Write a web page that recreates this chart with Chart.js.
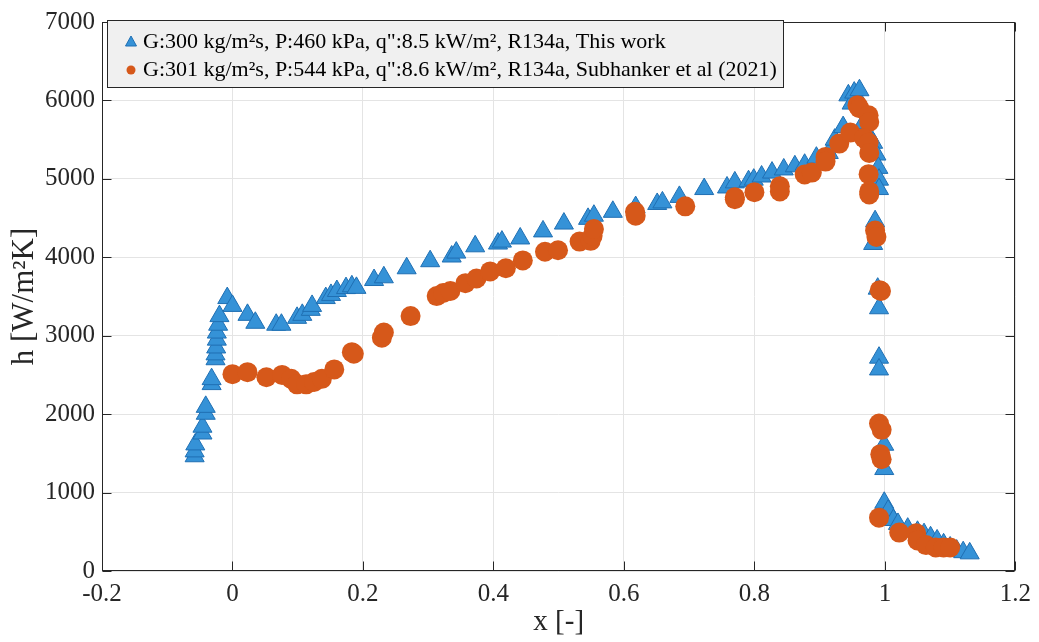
<!DOCTYPE html>
<html>
<head>
<meta charset="utf-8">
<script src="https://cdn.jsdelivr.net/npm/chart.js@4.4.1/dist/chart.umd.min.js"></script>
<style>
  html, body { margin: 0; padding: 0; background: #fff; }
  #wrap { width: 1039px; height: 642px; }
</style>
</head>
<body>
<div id="wrap"><canvas id="hChart"></canvas></div>
<script>
// valeurs
const xThisWork = [-0.058, -0.058, -0.057, -0.046, -0.046, -0.041, -0.041, -0.032, -0.032, -0.026,
  -0.026, -0.025, -0.024, -0.024, -0.022, -0.02, -0.008, 0.0, 0.023, 0.035,
  0.067, 0.075, 0.099, 0.107, 0.12, 0.122, 0.143, 0.151, 0.16, 0.174,
  0.183, 0.19, 0.217, 0.232, 0.267, 0.303, 0.336, 0.343, 0.372, 0.407,
  0.413, 0.441, 0.476, 0.508, 0.545, 0.554, 0.583, 0.618, 0.651, 0.659,
  0.685, 0.723, 0.758, 0.77, 0.791, 0.799, 0.811, 0.827, 0.845, 0.862,
  0.877, 0.895, 0.914, 0.923, 0.936, 0.944, 0.949, 0.953, 0.961, 0.967,
  0.975, 0.982, 0.987, 0.99, 0.991, 0.991, 0.985, 0.982, 0.989, 0.991,
  0.991, 0.991, 0.999, 0.999, 0.999, 1.005, 1.013, 1.02, 1.035, 1.05,
  1.06, 1.07, 1.08, 1.09, 1.1, 1.11, 1.12, 1.13];
const hThisWork = [1463, 1525, 1614, 1753, 1840, 2005, 2093, 2383, 2446, 2700,
  2762, 2850, 2950, 3040, 3140, 3250, 3480, 3380, 3266, 3165,
  3140, 3140, 3228, 3266, 3330, 3380, 3480, 3520, 3570, 3607,
  3630, 3610, 3710, 3745, 3860, 3950, 4010, 4060, 4140, 4175,
  4200, 4240, 4330, 4430, 4490, 4530, 4580, 4640, 4680, 4700,
  4770, 4870, 4890, 4955, 4970, 4990, 5030, 5080, 5120, 5160,
  5180, 5270, 5330, 5500, 5660, 6065, 5960, 6100, 6130, 5710,
  5560, 5460, 5310, 5140, 4990, 4870, 4460, 4170, 3600, 3350,
  2720, 2570, 1610, 1300, 870, 770, 650, 600, 540, 500,
  470, 430, 390, 340, 300, 260, 240, 225];

const xSubhanker = [0.0, 0.023, 0.052, 0.076, 0.09, 0.099, 0.113, 0.125, 0.137, 0.156,
  0.183, 0.186, 0.229, 0.232, 0.273, 0.313, 0.323, 0.334, 0.357, 0.374,
  0.395, 0.419, 0.445, 0.479, 0.499, 0.532, 0.549, 0.552, 0.554, 0.618,
  0.617, 0.694, 0.77, 0.77, 0.8, 0.839, 0.839, 0.877, 0.888, 0.909,
  0.909, 0.93, 0.947, 0.958, 0.961, 0.975, 0.976, 0.968, 0.975, 0.976,
  0.975, 0.976, 0.976, 0.985, 0.987, 0.994, 0.992, 0.991, 0.995, 0.993,
  0.995, 0.991, 1.022, 1.048, 1.05, 1.063, 1.078, 1.09, 1.1];
const hSubhanker = [2510, 2535, 2470, 2500, 2450, 2380, 2380, 2410, 2450, 2570,
  2790, 2770, 2975, 3040, 3250, 3505, 3545, 3570, 3670, 3730,
  3820, 3860, 3960, 4070, 4090, 4200, 4210, 4275, 4360, 4530,
  4580, 4650, 4765, 4740, 4830, 4905, 4840, 5055, 5080, 5280,
  5220, 5450, 5590, 5940, 5900, 5810, 5725, 5520, 5460, 5330,
  5060, 4840, 4800, 4340, 4260, 3570, 3580, 1880, 1800, 1490,
  1425, 680, 490, 480, 390, 330, 300, 300, 300];

const xTicks = [-0.2, 0, 0.2, 0.4, 0.6, 0.8, 1, 1.2];
const yTicks = [0, 1000, 2000, 3000, 4000, 5000, 6000, 7000];

const labelThisWork = 'G:300 kg/m\u00B2s, P:460 kPa, q":8.5 kW/m\u00B2, R134a, This work';
const labelSubhanker = 'G:301 kg/m\u00B2s, P:544 kPa, q":8.6 kW/m\u00B2, R134a, Subhanker et al (2021)';

const serif = "'Liberation Serif', 'Times New Roman', serif";
const blue = '#3592D7', blueEdge = '#1F6FB3', orange = '#D6581A';
const axisCol = '#262626';

const toPoints = (xs, ys) => xs.map((x, i) => ({ x: x, y: ys[i] }));

// boite des axes + graduations vers l'interieur, puis la legende
const matlabBox = {
  id: 'matlabBox',
  afterDraw(chart) {
    const { ctx, chartArea: a, scales } = chart;
    ctx.save();
    ctx.strokeStyle = axisCol;
    ctx.lineWidth = 1;
    const L = Math.round(a.left) + 0.5, R = Math.round(a.right) - 0.5;
    const T = Math.round(a.top) + 0.5, B = Math.round(a.bottom) - 0.5;
    ctx.strokeRect(L, T, R - L, B - T);
    ctx.beginPath();
    xTicks.forEach(v => {
      const px = Math.round(scales.x.getPixelForValue(v)) + 0.5;
      ctx.moveTo(px, B); ctx.lineTo(px, B - 9);
      ctx.moveTo(px, T); ctx.lineTo(px, T + 9);
    });
    yTicks.forEach(v => {
      const py = Math.round(scales.y.getPixelForValue(v)) + 0.5;
      ctx.moveTo(L, py); ctx.lineTo(L + 9, py);
      ctx.moveTo(R, py); ctx.lineTo(R - 9, py);
    });
    ctx.stroke();

    // legende
    const lx = 107.5, ly = 20.5, lw = 676, lh = 67;
    ctx.fillStyle = '#F0F0F0';
    ctx.fillRect(lx, ly, lw, lh);
    ctx.strokeRect(lx, ly, lw, lh);

    // triangle
    ctx.fillStyle = blue;
    ctx.strokeStyle = blueEdge;
    ctx.beginPath();
    ctx.moveTo(131, 36);
    ctx.lineTo(136.5, 46);
    ctx.lineTo(125.5, 46);
    ctx.closePath();
    ctx.fill(); ctx.stroke();
    // rond
    ctx.fillStyle = orange;
    ctx.beginPath();
    ctx.arc(131, 70, 4.5, 0, Math.PI * 2);
    ctx.fill();

    ctx.fillStyle = '#000';
    ctx.font = '22px ' + serif;
    ctx.textBaseline = 'middle';
    ctx.fillText(labelThisWork, 143, 42);
    ctx.fillText(labelSubhanker, 143, 70);
    ctx.restore();
  }
};

new Chart(document.getElementById('hChart'), {
  type: 'scatter',
  data: {
    datasets: [{
      label: labelThisWork,
      data: toPoints(xThisWork, hThisWork),
      pointStyle: 'triangle',
      pointRadius: 11,
      backgroundColor: blue,
      borderColor: blueEdge,
      borderWidth: 1,
      order: 1
    }, {
      label: labelSubhanker,
      data: toPoints(xSubhanker, hSubhanker),
      pointStyle: 'circle',
      pointRadius: 10,
      backgroundColor: orange,
      borderColor: orange,
      borderWidth: 0,
      order: 0
    }]
  },
  plugins: [matlabBox],
  options: {
    responsive: true,
    maintainAspectRatio: false,
    animation: false,
    layout: { padding: { top: 16, right: 19, left: 0, bottom: 0 } },
    scales: {
      x: {
        type: 'linear',
        min: -0.2,
        max: 1.2,
        afterBuildTicks: s => { s.ticks = xTicks.map(v => ({ value: v })); },
        afterFit: s => { s.height = 71; },
        grid: { color: '#E4E4E4', drawTicks: false },
        border: { display: false },
        ticks: {
          padding: 8,
          color: axisCol,
          font: { family: serif, size: 25 },
          callback: v => String(Math.round(v * 10) / 10)
        },
        title: {
          display: true,
          text: 'x [-]',
          color: axisCol,
          font: { family: serif, size: 29 },
          padding: { top: 0, bottom: 2 }
        }
      },
      y: {
        min: 0,
        max: 7000,
        afterBuildTicks: s => { s.ticks = yTicks.map(v => ({ value: v })); },
        afterFit: s => { s.width = 102; },
        grid: { color: '#E4E4E4', drawTicks: false },
        border: { display: false },
        ticks: {
          padding: 7,
          color: axisCol,
          font: { family: serif, size: 25 },
          callback: v => String(v)
        },
        title: {
          display: true,
          text: 'h [W/m\u00B2K]',
          color: axisCol,
          font: { family: serif, size: 31 },
          padding: { top: 6, bottom: 0 }
        }
      }
    },
    plugins: {
      legend: { display: false },
      tooltip: { enabled: false }
    }
  }
});
</script>
</body>
</html>
